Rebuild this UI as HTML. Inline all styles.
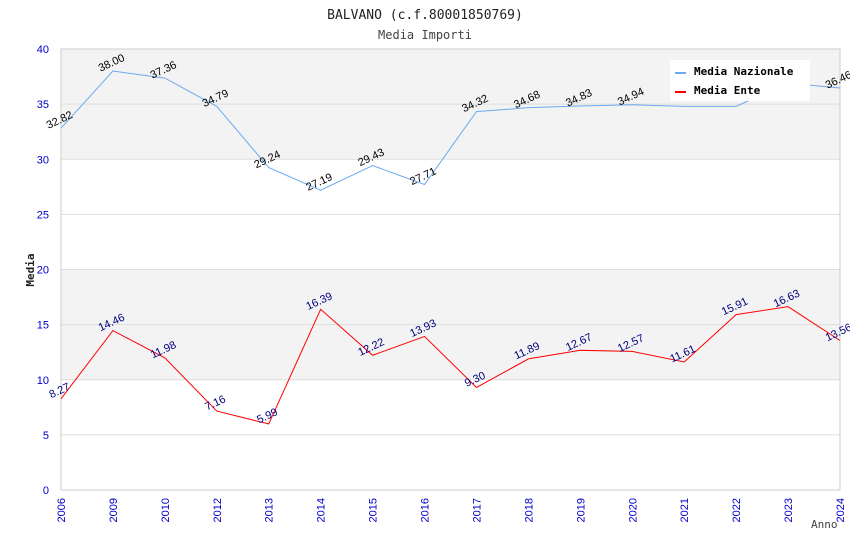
<!DOCTYPE html>
<html><head><meta charset="utf-8"><style>
body{margin:0;background:#fff;}
svg text{font-family:"DejaVu Sans Mono","Liberation Mono",monospace;}
svg text.s{font-family:"Liberation Sans","DejaVu Sans",sans-serif;}
</style></head><body>
<svg id="chart" width="850" height="550" xmlns="http://www.w3.org/2000/svg">
<text x="425" y="19" text-anchor="middle" font-size="13" fill="#222">BALVANO (c.f.80001850769)</text>
<text x="425" y="39" text-anchor="middle" font-size="12" fill="#444">Media Importi</text>
<g id="grid"></g><g id="axes"></g><g id="series"></g>
<g>
<rect x="670" y="60" width="140" height="41" fill="#fff"/>
<line x1="675" y1="73" x2="686" y2="73" stroke="#6aaaf0" stroke-width="2"/>
<text x="694" y="75" font-size="11" font-weight="bold" fill="#000">Media Nazionale</text>
<line x1="675" y1="92" x2="686" y2="92" stroke="#ff0000" stroke-width="2"/>
<text x="694" y="94" font-size="11" font-weight="bold" fill="#000">Media Ente</text>
</g>
<text x="34" y="270" transform="rotate(-90 34 270)" text-anchor="middle" font-size="11" font-weight="bold" fill="#222">Media</text>
<text x="811" y="528" font-size="11" fill="#444">Anno</text>
</svg>
<script>
const categories=["2006","2009","2010","2012","2013","2014","2015","2016","2017","2018","2019","2020","2021","2022","2023","2024"];
const nazionale=[32.82,38.00,37.36,34.79,29.24,27.19,29.43,27.71,34.32,34.68,34.83,34.94,34.8,34.8,36.9,36.46];
const nazionaleLabels=["32.82","38.00","37.36","34.79","29.24","27.19","29.43","27.71","34.32","34.68","34.83","34.94","","","","36.46"];
const ente=[8.27,14.46,11.98,7.16,5.99,16.39,12.22,13.93,9.30,11.89,12.67,12.57,11.61,15.91,16.63,13.56];
const yTicks=[0,5,10,15,20,25,30,35,40];
const NS="http://www.w3.org/2000/svg";
const L=61,R=840,T=49,B=490,YMAX=40;
const x=i=>L+i*(R-L)/(categories.length-1);
const y=v=>B-v/YMAX*(B-T);
function mk(tag,attrs,parent){const e=document.createElementNS(NS,tag);for(const k in attrs)e.setAttribute(k,attrs[k]);parent.appendChild(e);return e;}
const grid=document.getElementById('grid'),axes=document.getElementById('axes'),series=document.getElementById('series');
for(let i=0;i<yTicks.length-1;i++){
  const a=yTicks[i],b=yTicks[i+1];
  if(i===2||i===3||i===6||i===7){
    const r=mk('rect',{x:L,y:y(b),width:R-L,height:y(a)-y(b),fill:'#f3f3f3'},grid);
    
    
  }
}
yTicks.forEach(t=>{
  const ln=mk('line',{x1:L,x2:R,y1:y(t),y2:y(t),stroke:'#ddd','stroke-width':1},grid);
  
  
  const tx=mk('text',{class:'s',x:L-12,y:y(t)+4,'text-anchor':'end','font-size':11,fill:'#0000cc'},axes);
  tx.textContent=t;
  
  
});
const fr=mk('rect',{x:L,y:T,width:R-L,height:B-T,fill:'none',stroke:'#ccc'},axes);


categories.forEach((c,i)=>{
  const tx=mk('text',{class:'s',x:x(i)+4,y:B+8,'text-anchor':'end','font-size':11,fill:'#0000cc',transform:`rotate(-90 ${x(i)+4} ${B+8})`},axes);
  tx.textContent=c;
  
  
});
function drawSeries(vals,labels,color,lblColor,name){
  const p=mk('polyline',{points:vals.map((v,i)=>x(i)+','+y(v)).join(' '),fill:'none',stroke:color,'stroke-width':1},series);
  
  
  vals.forEach((v,i)=>{
    const s=labels?labels[i]:v.toFixed(2);
    if(!s) return;
    const tx=mk('text',{class:'s',x:x(i),y:y(v)-5,'text-anchor':'middle','font-size':11,fill:lblColor,transform:`rotate(-25 ${x(i)} ${y(v)-5})`},series);
    tx.textContent=s;
    
    
  });
}
drawSeries(nazionale,nazionaleLabels,'#6aaaf0','#000','nazionale');
drawSeries(ente,null,'#ff0000','#000080','ente');
</script>
</body></html>
